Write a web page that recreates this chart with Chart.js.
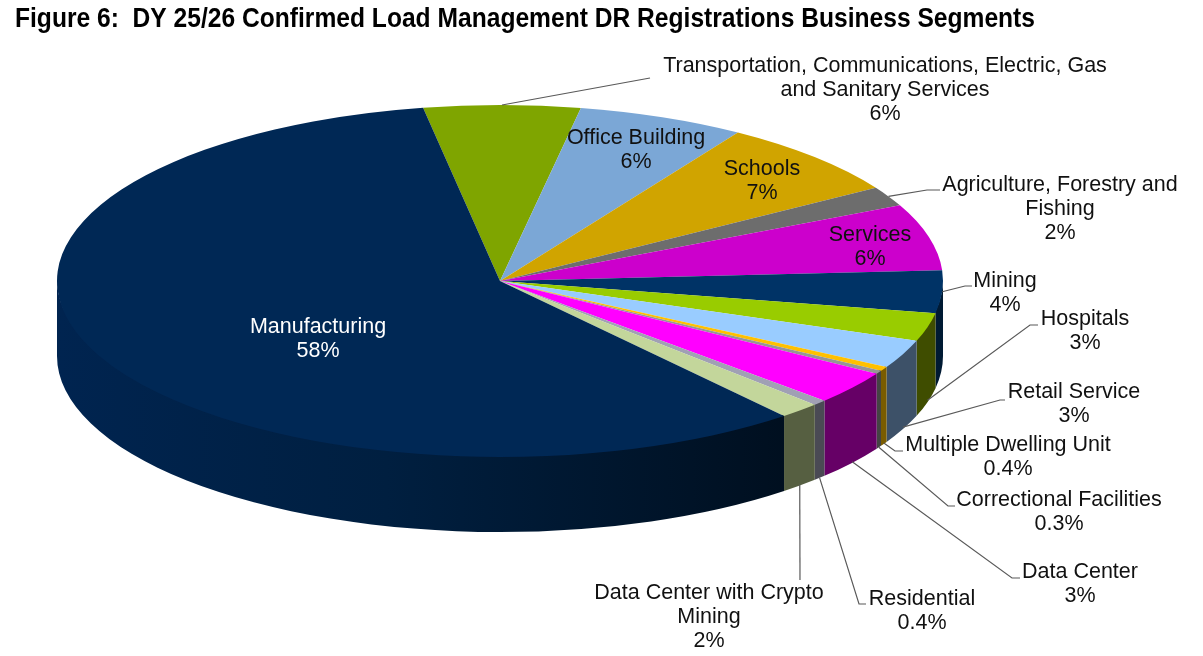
<!DOCTYPE html>
<html>
<head>
<meta charset="utf-8">
<title>Figure 6</title>
<script src="https://cdn.jsdelivr.net/npm/chart.js@4"></script>
<style>
    html, body { margin: 0; padding: 0; background: #fff; overflow: hidden; }
    canvas { display: block; }
</style>
</head>
<body>
<canvas id="pie" width="1203" height="656"></canvas>
<script>
const titleText = 'Figure 6:  DY 25/26 Confirmed Load Management DR Registrations Business Segments';

// clockwise, starting from the slice at the top of the pie
const categories = [
    'Transportation, Communications, Electric, Gas\nand Sanitary Services',
    'Office Building',
    'Schools',
    'Agriculture, Forestry and\nFishing',
    'Services',
    'Mining',
    'Hospitals',
    'Retail Service',
    'Multiple Dwelling Unit',
    'Correctional Facilities',
    'Data Center',
    'Residential',
    'Data Center with Crypto\nMining',
    'Manufacturing'
];
const shares = [5.7, 6.1, 7.1, 1.8, 6.1, 3.9, 2.6, 2.6, 0.4, 0.3, 3.1, 0.5, 1.5, 58.3];
const shareLabels = ['6%', '6%', '7%', '2%', '6%', '4%', '3%', '3%', '0.4%', '0.3%', '3%', '0.4%', '2%', '58%'];

const topColors = ['#7fa500', '#7ba7d6', '#d0a400', '#6d6d6d', '#cc00cc', '#003366', '#99cc00',
    '#99ccff', '#ffc000', '#969696', '#ff00ff', '#a0a0b4', '#c3d69b', '#002855'];
const wallColors = ['#3f5200', '#3d5368', '#685200', '#363636', '#660066', '#001a33', '#3f4d00',
    '#3d5168', '#7a5c00', '#444444', '#660066', '#4a4a54', '#565f41', '#00132a'];

// where each label sits: x centre, y of the first line, line start drop on the wall, elbow
const labelLayout = [
    { x: 885, y: 65, drop: 0, elbow: [650, 78], end: [650, 78] },
    { x: 636, y: 137 },
    { x: 762, y: 168 },
    { x: 1060, y: 184, drop: 0, elbow: [927, 190], end: [940, 190] },
    { x: 870, y: 234 },
    { x: 1005, y: 280, drop: 0, elbow: [965, 286], end: [972, 286] },
    { x: 1085, y: 318, drop: 73, elbow: [1030, 325], end: [1038, 325] },
    { x: 1074, y: 391, drop: 73, elbow: [1000, 400], end: [1005, 400] },
    { x: 1008, y: 444, drop: 74, elbow: [895, 451], end: [903, 451] },
    { x: 1059, y: 499, drop: 75, elbow: [948, 506], end: [955, 506] },
    { x: 1080, y: 571, drop: 74, elbow: [1012, 578], end: [1020, 578] },
    { x: 922, y: 598, drop: 75, elbow: [859, 604], end: [866, 604] },
    { x: 709, y: 592, drop: 74, elbow: [800, 580], end: [800, 580] },
    { x: 318, y: 326, color: '#ffffff' }
];

const squash = 176 / 443;   // tilt of the pie
const wallDepth = 75;
const labelFont = '21.5px "Liberation Sans", Arial, sans-serif';
const titleFont = 'bold 27px "Liberation Sans Narrow", "Liberation Sans", Arial, sans-serif';
const lineHeight = 24;

const pie3d = {
    id: 'pie3d',
    beforeDatasetsDraw(chart) {
        const ctx = chart.ctx;
        const arcs = chart.getDatasetMeta(0).data;
        const { x, y, outerRadius } = arcs[0];
        const ry = outerRadius * squash;

        // side wall first, only the front half of the rim can be seen
        arcs.forEach((arc, i) => {
            const from = Math.max(arc.startAngle, 0);
            const to = Math.min(arc.endAngle, Math.PI);
            if (from >= to) return;
            ctx.beginPath();
            // start 2px up so the top face covers the seam
            ctx.ellipse(x, y - 2, outerRadius, ry, 0, from, to);
            ctx.ellipse(x, y + wallDepth, outerRadius, ry, 0, to, from, true);
            ctx.closePath();
            if (i === arcs.length - 1) {
                const grad = ctx.createLinearGradient(x - outerRadius, 0, x + 290, 0);
                grad.addColorStop(0, '#002450');
                grad.addColorStop(0.45, '#001f40');
                grad.addColorStop(1, '#000f1f');
                ctx.fillStyle = grad;
            } else {
                ctx.fillStyle = wallColors[i];
            }
            ctx.fill();
        });

        ctx.save();
        ctx.translate(0, y);
        ctx.scale(1, squash);
        ctx.translate(0, -y);
    },
    afterDatasetsDraw(chart) {
        const ctx = chart.ctx;
        ctx.restore();

        const arcs = chart.getDatasetMeta(0).data;
        const { x, y, outerRadius } = arcs[0];

        ctx.strokeStyle = '#595959';
        ctx.lineWidth = 1.2;
        labelLayout.forEach((l, i) => {
            if (!l.elbow) return;
            const mid = (arcs[i].startAngle + arcs[i].endAngle) / 2;
            ctx.beginPath();
            ctx.moveTo(x + outerRadius * Math.cos(mid), y + outerRadius * squash * Math.sin(mid) + l.drop);
            ctx.lineTo(l.elbow[0], l.elbow[1]);
            ctx.lineTo(l.end[0], l.end[1]);
            ctx.stroke();
        });

        ctx.font = labelFont;
        ctx.textAlign = 'center';
        ctx.textBaseline = 'middle';
        labelLayout.forEach((l, i) => {
            ctx.fillStyle = l.color || '#111111';
            const lines = categories[i].split('\n').concat(shareLabels[i]);
            lines.forEach((line, n) => ctx.fillText(line, l.x, l.y + 1.5 + n * lineHeight));
        });

        // the title plugin squeezes text to the chart area, so it goes here
        ctx.font = titleFont;
        ctx.textAlign = 'left';
        ctx.fillStyle = '#000000';
        ctx.fillText(titleText, 15, 20, 1020);
    }
};

new Chart(document.getElementById('pie'), {
    type: 'pie',
    data: {
        labels: categories,
        datasets: [{
            data: shares,
            backgroundColor: topColors,
            borderWidth: 0,
            radius: 443,
            clip: false
        }]
    },
    options: {
        responsive: false,
        animation: false,
        events: [],
        rotation: -10,
        layout: { padding: { left: 15, right: 218, top: 35, bottom: 129 } },
        plugins: {
            legend: { display: false },
            tooltip: { enabled: false },
            title: { display: false }
        }
    },
    plugins: [pie3d]
});
</script>
</body>
</html>
